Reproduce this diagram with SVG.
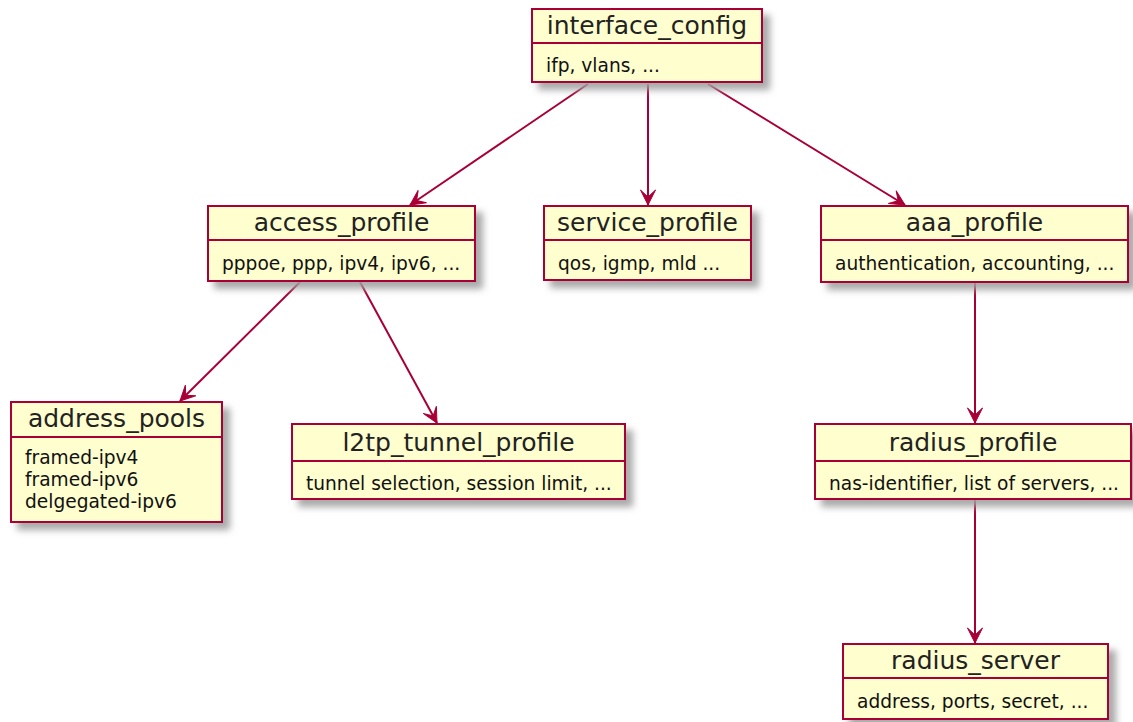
<svg xmlns="http://www.w3.org/2000/svg" width="1133" height="722" viewBox="0 0 1133 722">
<style>
.box{fill:#FEFECE;stroke:#A80036;stroke-width:2}
.sep{stroke:#A80036;stroke-width:2}
.title{font-family:"DejaVu Sans",sans-serif;font-size:25px;fill:#222;text-anchor:middle}
.body{font-family:"DejaVu Sans",sans-serif;font-size:18.6px;fill:#111}
.edge{fill:none;stroke:#A80036;stroke-width:2}
</style>
<defs>
<filter id="sh" x="-10%" y="-10%" width="130%" height="150%">
<feGaussianBlur in="SourceAlpha" stdDeviation="3.5"/>
<feOffset dx="7" dy="7" result="b"/>
<feColorMatrix in="b" type="matrix" values="0 0 0 0 0.35  0 0 0 0 0.35  0 0 0 0 0.35  0 0 0 0.9 0" result="s"/>
<feMerge><feMergeNode in="s"/><feMergeNode in="SourceGraphic"/></feMerge>
</filter>
<marker id="arr" viewBox="-17 -9 18 18" refX="0" refY="0" markerWidth="18" markerHeight="18" markerUnits="userSpaceOnUse" orient="auto">
<path d="M0,0 L-15,-7.5 L-8,0 L-15,7.5 Z" fill="#A80036" stroke="#A80036" stroke-width="1"/>
</marker>
</defs>
<g id="connectors">
<path class="edge" d="M588,84 L410,205" marker-end="url(#arr)"/>
<path class="edge" d="M648,84 L648,205" marker-end="url(#arr)"/>
<path class="edge" d="M708,84 L905,205" marker-end="url(#arr)"/>
<path class="edge" d="M300,282 L180,401" marker-end="url(#arr)"/>
<path class="edge" d="M360,282 L437,423" marker-end="url(#arr)"/>
<path class="edge" d="M975,282 L975,423" marker-end="url(#arr)"/>
<path class="edge" d="M975,500 L975,643" marker-end="url(#arr)"/>
</g>
<g id="interface_config">
<rect class="box" x="532" y="9" width="230" height="73" filter="url(#sh)"/>
<line class="sep" x1="532" y1="43" x2="762" y2="43"/>
<text class="title" x="647" y="34">interface_config</text>
<text class="body" x="546" y="72">ifp, vlans, ...</text>
</g>
<g id="access_profile">
<rect class="box" x="208" y="206" width="267" height="75" filter="url(#sh)"/>
<line class="sep" x1="208" y1="240" x2="475" y2="240"/>
<text class="title" x="341.5" y="231">access_profile</text>
<text class="body" x="222" y="270">pppoe, ppp, ipv4, ipv6, ...</text>
</g>
<g id="service_profile">
<rect class="box" x="544" y="206" width="207" height="74" filter="url(#sh)"/>
<line class="sep" x1="544" y1="240" x2="751" y2="240"/>
<text class="title" x="647.5" y="231">service_profile</text>
<text class="body" x="558" y="270">qos, igmp, mld ...</text>
</g>
<g id="aaa_profile">
<rect class="box" x="821" y="206" width="307" height="76" filter="url(#sh)"/>
<line class="sep" x1="821" y1="240" x2="1128" y2="240"/>
<text class="title" x="974.5" y="231">aaa_profile</text>
<text class="body" x="835" y="270">authentication, accounting, ...</text>
</g>
<g id="address_pools">
<rect class="box" x="11" y="402" width="211" height="120" filter="url(#sh)"/>
<line class="sep" x1="11" y1="437" x2="222" y2="437"/>
<text class="title" x="116.5" y="427">address_pools</text>
<text class="body" x="25" y="464">framed-ipv4</text>
<text class="body" x="25" y="486">framed-ipv6</text>
<text class="body" x="25" y="508">delgegated-ipv6</text>
</g>
<g id="l2tp_tunnel_profile">
<rect class="box" x="292" y="424" width="333" height="75" filter="url(#sh)"/>
<line class="sep" x1="292" y1="461" x2="625" y2="461"/>
<text class="title" x="458.5" y="451">l2tp_tunnel_profile</text>
<text class="body" x="306" y="490">tunnel selection, session limit, ...</text>
</g>
<g id="radius_profile">
<rect class="box" x="815" y="424" width="316" height="75" filter="url(#sh)"/>
<line class="sep" x1="815" y1="461" x2="1131" y2="461"/>
<text class="title" x="973" y="451">radius_profile</text>
<text class="body" x="829" y="490">nas-identifier, list of servers, ...</text>
</g>
<g id="radius_server">
<rect class="box" x="843" y="644" width="265" height="75" filter="url(#sh)"/>
<line class="sep" x1="843" y1="678" x2="1108" y2="678"/>
<text class="title" x="975.5" y="669">radius_server</text>
<text class="body" x="857" y="708">address, ports, secret, ...</text>
</g>
</svg>
